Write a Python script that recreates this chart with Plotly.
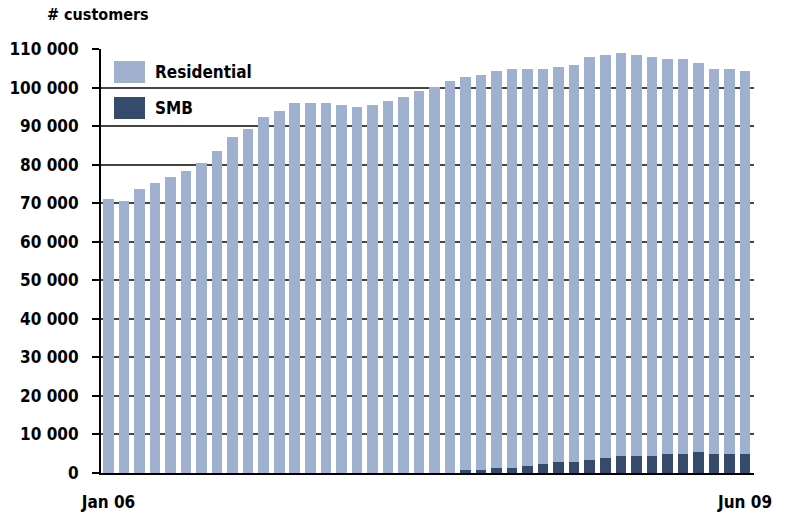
import pandas as pd
import plotly.graph_objects as go

# Monthly customer base, Jan 2006 - Jun 2009
months = pd.date_range("2006-01-01", "2009-06-01", freq="MS").strftime("%b %y").tolist()

residential = [
    71200, 70600, 73700, 75200, 76800, 78300, 80400, 83500, 87200, 89200,
    92300, 93900, 96000, 96000, 96000, 95500, 94900, 95500, 96500, 97500,
    99100, 100100, 101700, 101900, 102400, 103000, 103500, 103000, 102500, 102500,
    103000, 104600, 104600, 104600, 104100, 103600, 102500, 102500, 101000, 99900,
    99900, 99400,
]
smb = [
    0, 0, 0, 0, 0, 0, 0, 0, 0, 0,
    0, 0, 0, 0, 0, 0, 0, 0, 0, 0,
    0, 0, 0, 800, 800, 1300, 1300, 1800, 2300, 2800,
    2800, 3300, 3800, 4300, 4300, 4300, 4900, 4900, 5400, 4900,
    4900, 4900,
]
y_ticks = list(range(0, 110001, 10000))
x_tick_labels = [months[0], months[-1]]

RES_COLOR = "#9fb1cf"
SMB_COLOR = "#354b6c"
FONT = "DejaVu Sans Condensed, Liberation Sans Narrow, Arial Narrow, sans-serif"
TXT = dict(family=FONT, size=17, color="black", weight="bold")

W, H = 796, 515
L, R, T, B = 101, 42, 49, 42
PW, PH = W - L - R, H - T - B


def px(x):
    return (x - L) / PW


def py(y):
    return (H - B - y) / PH


fig = go.Figure()
fig.add_trace(go.Bar(x=months, y=smb, name="SMB", marker=dict(color=SMB_COLOR, line_width=0)))
fig.add_trace(go.Bar(x=months, y=residential, name="Residential",
                     marker=dict(color=RES_COLOR, line_width=0)))

fig.update_layout(
    width=W, height=H,
    margin=dict(l=L, r=R, t=T, b=B, autoexpand=False),
    barmode="stack",
    bargap=0.32,
    showlegend=False,
    plot_bgcolor="white",
    paper_bgcolor="white",
    separators=". ",
    font=TXT,
    xaxis=dict(
        type="category",
        range=[-0.48, len(months) - 1 + 0.58],
        tickvals=x_tick_labels,
        ticktext=x_tick_labels,
        ticks="",
        showgrid=False,
        showline=True, linecolor="black", linewidth=2,
        ticklabelstandoff=13,
        automargin=False,
        tickfont=TXT,
    ),
    yaxis=dict(
        range=[0, 110000],
        tickvals=y_ticks,
        tickformat=",d",
        ticks="outside", ticklen=7, tickcolor="black", tickwidth=1.5,
        showline=True, linecolor="black", linewidth=2,
        showgrid=True, gridcolor="#454545", gridwidth=2,
        zeroline=False,
        ticklabelstandoff=10,
        automargin=False,
        tickfont=TXT,
    ),
)

fig.add_annotation(
    text="# customers", xref="paper", yref="paper",
    x=px(45), y=py(15), xanchor="left", yanchor="middle",
    showarrow=False, font=dict(family=FONT, size=16, color="black", weight="bold"),
)

# Legend drawn as swatches + labels
legend_items = [("Residential", RES_COLOR, 61, 83), ("SMB", SMB_COLOR, 97, 119)]
for label, color, y0, y1 in legend_items:
    fig.add_shape(type="rect", xref="paper", yref="paper",
                  x0=px(114), x1=px(145), y0=py(y1), y1=py(y0),
                  fillcolor=color, line_width=0)
    fig.add_annotation(text=label, xref="paper", yref="paper",
                       x=px(153), y=py((y0 + y1) / 2), xanchor="left", yanchor="middle",
                       showarrow=False, font=TXT)

fig.write_html("out.html")
